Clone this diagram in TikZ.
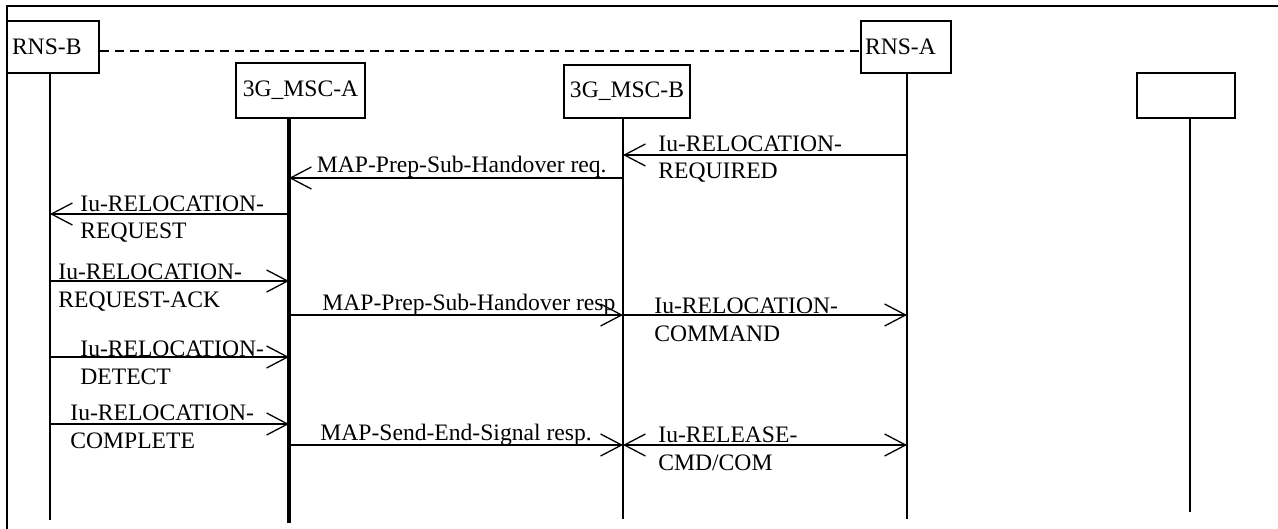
\documentclass[tikz,border=0pt]{standalone}
\usepackage{fontspec}
\setmainfont{Liberation Serif}
\usetikzlibrary{arrows.meta}

\begin{document}
\begin{tikzpicture}[x=0.5pt, y=-0.5pt, >={Straight Barb[length=10.5pt,width=11pt]},
  every node/.style={font=\fontsize{11.8}{13.75}\selectfont, inner sep=0pt},
  entity/.style={draw, line width=0.65pt},
  life/.style={line width=1.4pt},
  msg/.style={line width=0.65pt},
  lbl/.style={anchor=base west, align=left}]
\useasboundingbox (0,0) rectangle (1278,529);
\draw[line width=0.6pt] (7,529) -- (7,6) -- (1278,6);

\node[name=rns_b, entity, minimum width=46pt, minimum height=26pt, text width=41pt, align=left] at (53,47) {RNS-B};
\node[name=msc_a, entity, minimum width=64.5pt, minimum height=27.5pt] at (300.5,90.5) {3G\_MSC-A};
\node[name=msc_b, entity, minimum width=63pt, minimum height=26.5pt] at (627,91.5) {3G\_MSC-B};
\node[name=rns_a, entity, minimum width=45pt, minimum height=26pt, text width=41pt, align=left] at (906,47) {RNS-A};
\node[name=other, entity, minimum width=49pt, minimum height=22.5pt] at (1186,95.5) {};

\coordinate (rns_b_end) at (50,520);
\coordinate (msc_a_end) at (289,523);
\coordinate (msc_b_end) at (623,519);
\coordinate (rns_a_end) at (907,519);
\coordinate (other_end) at (1190,512);
\coordinate (t_0) at (0,51);

\draw[msg, dash pattern=on 4.5pt off 3pt] (rns_b.east |- t_0) -- (rns_a.west |- t_0);
\draw[life] (rns_b.south -| rns_b_end) -- (rns_b_end);
\draw[life, line width=1.6pt] (msc_a.south -| msc_a_end) -- (msc_a_end);
\draw[life] (msc_b.south -| msc_b_end) -- (msc_b_end);
\draw[life] (rns_a.south -| rns_a_end) -- (rns_a_end);
\draw[life, line width=1.1pt] (other.south -| other_end) -- (other_end);

% message rows
\coordinate (t_1) at (0,155);
\coordinate (t_2) at (0,178);
\coordinate (t_3) at (0,214);
\coordinate (t_4) at (0,281);
\coordinate (t_5) at (0,315);
\coordinate (t_6) at (0,357);
\coordinate (t_7) at (0,424);
\coordinate (t_8) at (0,445);

\draw[msg,->] (rns_a_end |- t_1) -- (msc_b_end |- t_1);
\node[name=lbl_1, lbl] at (658,179) {Iu-RELOCATION-\\REQUIRED};
\draw[msg,->] (msc_b_end |- t_2) -- (msc_a_end |- t_2);
\node[name=lbl_2, anchor=base east] at (607,173) {MAP-Prep-Sub-Handover req.};
\draw[msg,->] (msc_a_end |- t_3) -- (rns_b_end |- t_3);
\node[name=lbl_3, lbl] at (80,239) {Iu-RELOCATION-\\REQUEST};
\draw[msg,->] (rns_b_end |- t_4) -- (msc_a_end |- t_4);
\node[name=lbl_4, lbl] at (58,307) {Iu-RELOCATION-\\REQUEST-ACK};
\draw[msg,->] (msc_a_end |- t_5) -- (msc_b_end |- t_5);
\node[name=lbl_5, lbl] at (322,310) {MAP-Prep-Sub-Handover resp};
\draw[msg,->] (msc_b_end |- t_5) -- (rns_a_end |- t_5);
\node[name=lbl_6, lbl] at (654,341) {Iu-RELOCATION-\\COMMAND};
\draw[msg,->] (rns_b_end |- t_6) -- (msc_a_end |- t_6);
\node[name=lbl_7, lbl] at (80,384) {Iu-RELOCATION-\\DETECT};
\draw[msg,->] (rns_b_end |- t_7) -- (msc_a_end |- t_7);
\node[name=lbl_8, lbl] at (70,448) {Iu-RELOCATION-\\COMPLETE};
\draw[msg,->] (msc_a_end |- t_8) -- (msc_b_end |- t_8);
\node[name=lbl_9, lbl] at (320,440) {MAP-Send-End-Signal resp.};
\draw[msg,<->] (msc_b_end |- t_8) -- (rns_a_end |- t_8);
\node[name=lbl_10, lbl] at (658,470) {Iu-RELEASE-\\CMD/COM};

\end{tikzpicture}
\end{document}
